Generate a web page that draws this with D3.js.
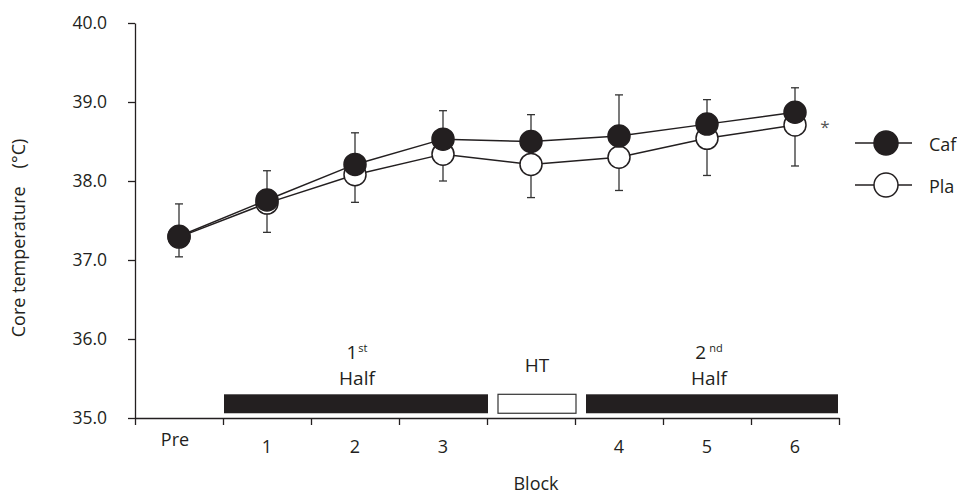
<!DOCTYPE html>
<html>
<head>
<meta charset="utf-8">
<script src="https://cdn.jsdelivr.net/npm/d3@7"></script>
<style>
  body { margin: 0; background: #fff; }
  svg { display: block; font-family: "Open Sans", sans-serif; }
  .axis path, .axis line { stroke: #231f20; stroke-width: 1.3; }
  .axis text { fill: #231f20; font-size: 17.5px; font-family: "Open Sans", sans-serif; }
</style>
</head>
<body>
<div id="chart"></div>
<script>
// time points (HT = half time, no tick label)
const blocks = ["Pre", "1", "2", "3", "HT", "4", "5", "6"];
const blockLabels = ["Pre", "1", "2", "3", "", "4", "5", "6"];

// core temperature, mean and SD
const cafMean = [37.30, 37.76, 38.21, 38.53, 38.50, 38.57, 38.72, 38.87];
const cafSD   = [0.41, 0.37, 0.40, 0.36, 0.34, 0.52, 0.31, 0.31];
const plaMean = [37.29, 37.72, 38.08, 38.34, 38.21, 38.30, 38.54, 38.71];
const plaSD   = [0.25, 0.37, 0.35, 0.34, 0.42, 0.42, 0.47, 0.52];

const yTicks = [35, 36, 37, 38, 39, 40];

// match phases drawn along the bottom
const phaseNames = ["1st Half", "HT", "2nd Half"];
const phaseFrom  = ["1", "HT", "4"];
const phaseTo    = ["3", "HT", "6"];
const phaseFill  = ["#231f20", "#fff", "#231f20"];

const width = 957, height = 494;
const ink = "#231f20";

const svg = d3.select("#chart").append("svg")
  .attr("width", width)
  .attr("height", height);

const y = d3.scaleLinear().domain([35, 40]).range([418, 23]);
const x = d3.scaleBand().domain(blocks).range([135, 839]).padding(0);
const xEdge = d3.scaleLinear().domain([0, blocks.length]).range([135, 839]);
const cx = (b) => x(b) + x.bandwidth() / 2;

// axes
svg.append("g")
  .attr("class", "axis")
  .attr("transform", "translate(135,0)")
  .call(d3.axisLeft(y).tickValues(yTicks).tickFormat(d3.format(".1f"))
    .tickSize(7).tickSizeOuter(0).tickPadding(21));

svg.append("g")
  .attr("class", "axis")
  .attr("transform", `translate(0,${y(35)})`)
  .call(d3.axisBottom(xEdge).tickValues(d3.range(blocks.length + 1))
    .tickFormat("").tickSize(7).tickSizeOuter(0));

svg.append("g").selectAll("text")
  .data(blocks)
  .join("text")
    .attr("x", (d) => cx(d) - (d == "Pre" ? 4 : 0))
    .attr("y", (d) => d == "Pre" ? 446 : 453)
    .attr("text-anchor", "middle")
    .attr("fill", ink)
    .style("font-size", "18px")
    .text((d, i) => blockLabels[i]);

svg.append("text")
  .attr("x", x("HT") + x.bandwidth() / 2 + 5)
  .attr("y", 490)
  .attr("text-anchor", "middle")
  .attr("fill", ink)
  .style("font-size", "18px")
  .text("Block");

svg.append("text")
  .attr("transform", "translate(25,238) rotate(-90)")
  .attr("text-anchor", "middle")
  .attr("fill", ink)
  .style("font-size", "18px")
  .text("Core temperature\u2003(°C)");

// phase bars
phaseNames.forEach((name, i) => {
  const x0 = x(phaseFrom[i]) + (i == 0 ? 1 : 11);
  const x1 = x(phaseTo[i]) + x.bandwidth() + (i == 2 ? -1 : 1);
  svg.append("rect")
    .attr("x", x0)
    .attr("y", y(35.3))
    .attr("width", x1 - x0)
    .attr("height", y(35.06) - y(35.3))
    .attr("fill", phaseFill[i])
    .attr("stroke", phaseFill[i] == "#fff" ? "#333" : "none")
    .attr("stroke-width", 1.2);

  const mid = (x0 + x1) / 2;
  if (name == "HT") {
    svg.append("text")
      .attr("x", mid).attr("y", 372)
      .attr("text-anchor", "middle").attr("fill", ink)
      .style("font-size", "19px")
      .text(name);
  } else {
    const parts = name.split(" ");
    const num = parts[0].slice(0, 1), sup = parts[0].slice(1);
    const t = svg.append("text")
      .attr("x", cx(i == 0 ? "2" : "5") + 2).attr("y", 359)
      .attr("text-anchor", "middle").attr("fill", ink)
      .style("font-size", "19px");
    t.append("tspan").text(num);
    t.append("tspan").attr("dx", i == 0 ? 1 : 3).attr("dy", -7)
      .style("font-size", "11px").text(sup);
    svg.append("text")
      .attr("x", cx(i == 0 ? "2" : "5") + 2).attr("y", 385)
      .attr("text-anchor", "middle").attr("fill", ink)
      .style("font-size", "19px")
      .text(parts[1]);
  }
});

// error bars: Caf upward, Pla downward
function errorBars(means, sds, dir) {
  const g = svg.append("g").attr("stroke", "#333").attr("stroke-width", 1.3);
  blocks.forEach((b, i) => {
    const yEnd = y(means[i] + dir * sds[i]);
    g.append("line")
      .attr("x1", cx(b)).attr("x2", cx(b))
      .attr("y1", y(means[i])).attr("y2", yEnd);
    g.append("line")
      .attr("x1", cx(b) - 4).attr("x2", cx(b) + 4)
      .attr("y1", yEnd).attr("y2", yEnd);
  });
}
errorBars(cafMean, cafSD, 1);
errorBars(plaMean, plaSD, -1);

const line = d3.line()
  .x((d, i) => cx(blocks[i]))
  .y((d) => y(d));

function series(means, fill) {
  svg.append("path")
    .attr("d", line(means))
    .attr("fill", "none")
    .attr("stroke", ink)
    .attr("stroke-width", 1.5);
  svg.append("g").selectAll("circle")
    .data(means)
    .join("circle")
      .attr("cx", (d, i) => cx(blocks[i]))
      .attr("cy", (d) => y(d))
      .attr("r", 11)
      .attr("fill", fill)
      .attr("stroke", ink)
      .attr("stroke-width", 1.5);
}
series(plaMean, "#fff");
series(cafMean, ink);

// significance mark
svg.append("text")
  .attr("x", 825).attr("y", 133)
  .attr("text-anchor", "middle")
  .attr("fill", "#555")
  .style("font-size", "17px")
  .text("*");

// legend
const legend = svg.append("g").attr("transform", "translate(855,0)");
[["Caf", ink, 143], ["Pla", "#fff", 185]].forEach(([name, fill, ly]) => {
  legend.append("line")
    .attr("x1", 0).attr("x2", 57).attr("y1", ly).attr("y2", ly)
    .attr("stroke", ink).attr("stroke-width", 1.5);
  legend.append("circle")
    .attr("cx", 31).attr("cy", ly).attr("r", 12)
    .attr("fill", fill).attr("stroke", ink).attr("stroke-width", 1.5);
  legend.append("text")
    .attr("x", 74).attr("y", ly + 4)
    .attr("dy", "0.2em")
    .attr("fill", ink)
    .style("font-size", "18px")
    .text(name);
});
</script>
</body>
</html>
